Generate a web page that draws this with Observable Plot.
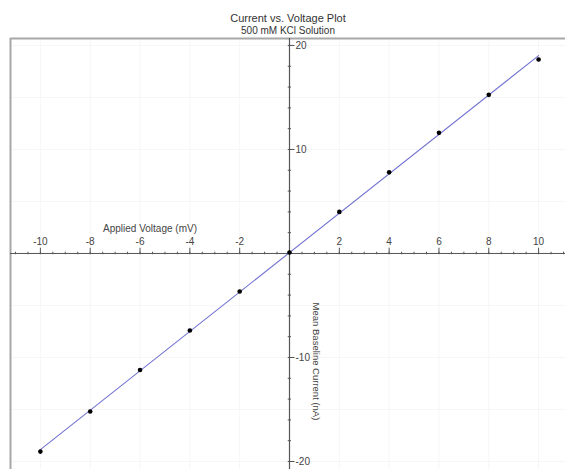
<!DOCTYPE html>
<html><head><meta charset="utf-8">
<script src="https://cdn.jsdelivr.net/npm/d3@7"></script>
<script src="https://cdn.jsdelivr.net/npm/@observablehq/plot@0.6"></script>
<style>body{margin:0;background:#fff;overflow:hidden}</style>
</head><body><div id="chart"></div>
<script>
const title = "Current vs. Voltage Plot";
const subtitle = "500 mM KCl Solution";
const xLabel = "Applied Voltage (mV)";
const yLabel = "Mean Baseline Current (nA)";
const voltage = [-10, -8, -6, -4, -2, 0, 2, 4, 6, 8, 10];
const current = [-19.05, -15.2, -11.2, -7.4, -3.65, 0.1, 4.0, 7.8, 11.6, 15.25, 18.65];
const xTicks = [-10, -8, -6, -4, -2, 2, 4, 6, 8, 10];
const xTickLabels = ["-10", "-8", "-6", "-4", "-2", "2", "4", "6", "8", "10"];
const yTicks = [-20, -10, 10, 20];
const yTickLabels = ["-20", "-10", "10", "20"];
const xGrid = [-10, -8, -6, -4, -2, 2, 4, 6, 8, 10];
const yGrid = [-20, -15, -10, -5, 5, 10, 15, 20];
const xDomain = [-11.2, 11.08];
const yDomain = [-20.77, 20.67];

const xMinor = d3.range(-11, 11.01, 0.5);
const yMinor = d3.range(-20, 20.01, 2);
const table = voltage.map((v, i) => ({v, c: current[i]}));
const xT = xTicks.map((t, i) => ({t, s: xTickLabels[i]}));
const yT = yTicks.map((t, i) => ({t, s: yTickLabels[i]}));

const axisColor = "#555";
const textColor = "#444";

const chart = Plot.plot({
  width: 565,
  height: 469,
  marginTop: 38,
  marginLeft: 10,
  marginRight: 0,
  marginBottom: 0,
  x: {domain: xDomain, axis: null},
  y: {domain: yDomain, axis: null},
  style: {fontFamily: "'Liberation Sans', Arial, sans-serif", background: "#fff", overflow: "visible"},
  marks: [
    Plot.ruleX(xGrid, {stroke: "#f6f6f6"}),
    Plot.ruleY(yGrid, {stroke: "#f6f6f6"}),
    Plot.ruleX([xDomain[0]], {stroke: "#a8a8a8", strokeWidth: 2}),
    Plot.ruleY([yDomain[1]], {stroke: "#a8a8a8", strokeWidth: 2}),
    Plot.ruleY([0], {stroke: axisColor}),
    Plot.ruleX([0], {stroke: axisColor, strokeWidth: 1.2}),
    Plot.ruleX(xTicks, {y1: 0, y2: 0.5, stroke: axisColor}),
    Plot.ruleX(xMinor, {y1: -0.12, y2: 0.12, stroke: axisColor}),
    Plot.ruleY(yTicks, {x1: 0, x2: 0.22, stroke: axisColor}),
    Plot.ruleY(yMinor, {x1: -0.05, x2: 0.08, stroke: axisColor}),
    Plot.text(xT, {x: "t", y: 0, text: "s", dy: -12, fontSize: 10, fill: textColor}),
    Plot.text(yT, {x: 0, y: "t", text: "s", dx: 6, textAnchor: "start", fontSize: 10, fill: textColor}),
    Plot.text([xLabel], {x: (xDomain[0] + 0) / 2, y: 0, text: d => d, dy: -25, fontSize: 10, fill: textColor}),
    Plot.text([yLabel], {x: 0, y: yDomain[0] / 2, text: d => d, dx: 27, rotate: 90, fontSize: 9.5, fill: textColor}),
    Plot.text([title], {frameAnchor: "top", text: d => d, dy: -24, fontSize: 11, fill: "#333"}),
    Plot.text([subtitle], {frameAnchor: "top", text: d => d, dy: -11.5, fontSize: 10, fill: "#333"}),
    Plot.linearRegressionY(table, {x: "v", y: "c", stroke: "#7272d2", strokeWidth: 1.1, ci: 0}),
    Plot.dot(table, {x: "v", y: "c", r: 2.3, fill: "#000"})
  ]
});
document.getElementById("chart").append(chart);
</script>
</body></html>
